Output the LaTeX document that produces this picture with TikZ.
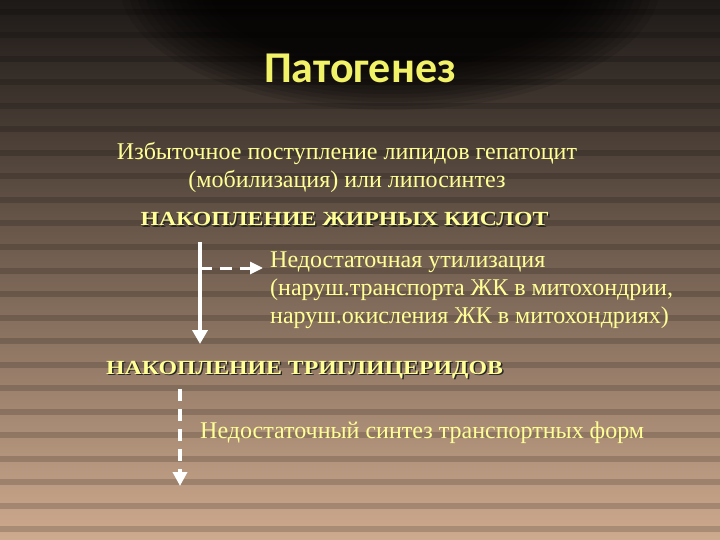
\documentclass[tikz,border=0pt]{standalone}
\usepackage{fontspec}
\setmainfont{Liberation Serif}
\newfontfamily\titlefont{Carlito}
\usetikzlibrary{arrows.meta}

\definecolor{bgtop}{RGB}{30,26,24}
\definecolor{bgmid}{RGB}{116,98,88}
\definecolor{bgbot}{RGB}{206,170,142}
\definecolor{txtyel}{RGB}{255,255,150}
\definecolor{ttlyel}{RGB}{242,242,104}

\newcommand{\widecaps}[1]{\scalebox{1.19}[1]{#1}}

\tikzset{
  body/.style={text=txtyel,inner sep=0pt,font=\fontsize{24}{28}\selectfont},
  headtext/.style={inner sep=0pt,font=\bfseries\fontsize{20}{24}\selectfont},
  solidarr/.style={draw=white,line width=3.5pt,-{Triangle[width=15pt,length=14pt]}},
  dasharr/.style={draw=white,line width=3.5pt,dash pattern=on 12pt off 8pt,-{Triangle[width=14pt,length=14pt]}},
}

\begin{document}
\begin{tikzpicture}[x=1pt,y=-1pt]
\useasboundingbox (0,0) rectangle (720,540);
% background
\shade[top color=bgtop,middle color=bgmid,bottom color=bgbot] (0,0) rectangle (720,540);
\foreach \row in {0,...,22}
  \fill[black,opacity=0.16] (0,\row*23.5+9) rectangle (720,\row*23.5+15);
\foreach \k in {0,...,11}
  \fill[black,opacity=0.1] (390,-15) ellipse[x radius={270-8*\k},y radius={125-4*\k}];

% title
\node[text=ttlyel,font=\titlefont\bfseries\fontsize{44}{50}\selectfont] (title) at (360,68) {Патогенез};

% text
\node[body,align=center] (lipid) at (347,167) {Избыточное поступление липидов гепатоцит\\(мобилизация) или липосинтез};
\node[headtext,text=black!85] at (346,220.5) {\widecaps{НАКОПЛЕНИЕ ЖИРНЫХ КИСЛОТ}};
\node[headtext,text=txtyel] (fa) at (344.5,219) {\widecaps{НАКОПЛЕНИЕ ЖИРНЫХ КИСЛОТ}};
\node[body,align=left,anchor=west] (util) at (270,290) {Недостаточная утилизация\\(наруш.транспорта ЖК в митохондрии,\\наруш.окисления ЖК в митохондриях)};
\node[headtext,text=black!85] at (306,371.5) {\widecaps{НАКОПЛЕНИЕ ТРИГЛИЦЕРИДОВ}};
\node[headtext,text=txtyel] (tg) at (304.5,370) {\widecaps{НАКОПЛЕНИЕ ТРИГЛИЦЕРИДОВ}};
\node[body,anchor=west] (synth) at (200,433) {Недостаточный синтез транспортных форм};

% arrows
\coordinate (fa-out) at (200,242);
\coordinate (fa-in) at (200,344);
\coordinate (branch) at (200,268);
\coordinate (util-in) at (263,268);
\coordinate (tg-out) at (180,389);
\coordinate (tg-in) at (180,486);
\draw[solidarr] (fa-out) -- (fa-in);
\draw[dasharr,line width=3pt,-{Triangle[width=12pt,length=13pt]}] (branch) -- (util-in);
\draw[dasharr] (tg-out) -- (tg-in);
\end{tikzpicture}
\end{document}
